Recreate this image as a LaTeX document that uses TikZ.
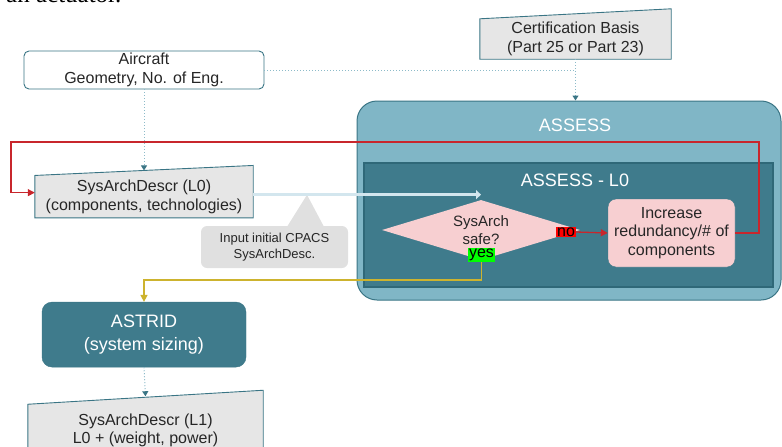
\documentclass[tikz,border=0pt]{standalone}
\usepackage{fontspec}
\setmainfont{Liberation Sans}
\newfontfamily\pagefont{Liberation Serif}
\usetikzlibrary{shapes,arrows.meta,positioning,backgrounds}

\definecolor{tealdark}{HTML}{3F7B8C}
\definecolor{tealedge}{HTML}{2F6878}
\definecolor{teallight}{HTML}{80B6C6}
\definecolor{tealline}{HTML}{3A7585}
\definecolor{dotblue}{HTML}{8DBBC9}
\definecolor{boxgray}{HTML}{E6E6E6}
\definecolor{pinkfill}{HTML}{F7CFD1}
\definecolor{loopred}{HTML}{C8262C}
\definecolor{yesyellow}{HTML}{CDB32E}
\definecolor{inputblue}{HTML}{D3E6EE}
\definecolor{notegray}{HTML}{E0E0E0}

\newcommand{\mainsize}{\fontsize{16}{18.5}\selectfont}
\newcommand{\asksize}{\fontsize{15}{18}\selectfont}
\newcommand{\bigsize}{\fontsize{18}{22.5}\selectfont}
\newcommand{\notesize}{\fontsize{13}{16}\selectfont}
\newcommand{\flagsize}{\fontsize{16}{18}\selectfont}

\tikzstyle{startbox} = [rectangle, draw=tealline, line width=0.9pt, fill=white,
    rounded corners=5pt, align=center, inner sep=2pt, font=\mainsize, text=black!85]
\tikzstyle{datain} = [rectangle, align=center, inner sep=2pt, font=\mainsize, text=black!85]
\tikzstyle{process} = [rectangle, draw=tealline, fill=tealdark, rounded corners=10pt,
    align=center, text=white, font=\bigsize]
\tikzstyle{outerbox} = [rectangle, draw=tealline, line width=1pt, fill=teallight, rounded corners=20pt]
\tikzstyle{innerbox} = [rectangle, draw=tealedge, line width=1.2pt, fill=tealdark]
\tikzstyle{boxtitle} = [text=white, font=\bigsize, inner sep=0pt]
\tikzstyle{decision} = [diamond, fill=pinkfill, aspect=3.3, inner sep=0pt, align=center,
    font=\asksize, text=black!85]
\tikzstyle{fixbox} = [rectangle, draw=tealline, fill=pinkfill, rounded corners=8pt,
    align=center, inner sep=2pt, font=\mainsize, text=black!85]
\tikzstyle{flag} = [inner sep=1pt, font=\flagsize, text=black]
\tikzstyle{note} = [rectangle, fill=notegray, rounded corners=6pt, align=center,
    font=\notesize, text=black!85]
\tikzstyle{dotarrow} = [draw=dotblue, dotted, line width=1pt,
    -{Triangle[width=6pt,length=5pt,color=tealline]}]
\tikzstyle{dotline} = [draw=dotblue, dotted, line width=1pt]
\tikzstyle{loopline} = [draw=loopred, line width=1.3pt, -{Triangle[width=7pt,length=7pt]}]
\tikzstyle{yesline} = [draw=yesyellow, line width=1.5pt, -{Triangle[width=7pt,length=7pt]}]
\tikzstyle{inputline} = [draw=inputblue, line width=2.5pt, -{Triangle[width=9pt,length=5pt]}]

% slanted top of a manual input box
\newcommand{\manualin}[2]{%
  \begin{scope}[on background layer]
    \filldraw[draw=tealline, fill=boxgray, line width=0.9pt]
      (#1.south west) -- (#1.north west) -- ([yshift=#2]#1.north east) -- (#1.south east) -- cycle;
  \end{scope}}

\begin{document}
\begin{tikzpicture}[x=1pt, y=-1pt]
    \useasboundingbox (0,0) rectangle (782,447);
    \clip (0,0) rectangle (782,447);

    \node[anchor=base west, inner sep=0pt, font={\pagefont\fontsize{25}{30}\selectfont}] (bodytext) at (6,2.5) {an actuator.};

    % ASSESS block
    \node[outerbox, minimum width=424pt, minimum height=199pt] (assess) at (569,200.5) {};
    \node[boxtitle] (assesstitle) at (575,125) {ASSESS};
    \node[innerbox, minimum width=409pt, minimum height=124pt] (assessl0) at (568.5,225) {};
    \node[boxtitle] (assessl0title) at (575,180) {ASSESS - L0};

    \node[decision, minimum width=198pt, minimum height=60pt] (decision) at (481,230) {SysArch\\safe?};
    \node[fixbox, minimum width=127pt, minimum height=68pt] (increase) at (671.5,233) {Increase\\redundancy/\# of\\components};
    \node[flag, fill=red] (no) at (566,232) {no};
    \node[flag, fill=green] (yes) at (481.5,255) {yes};

    % inputs and sizing
    \node[startbox, minimum width=240pt, minimum height=38pt] (aircraft) at (144,70) {Aircraft\\Geometry, No. of Eng.};
    \node[datain, minimum width=191pt, minimum height=40pt] (certbasis) at (575.5,39) {Certification Basis\\(Part 25 or Part 23)};
    \manualin{certbasis}{10pt}
    \node[datain, minimum width=218pt, minimum height=42pt, below=86pt of aircraft] (sysl0) {SysArchDescr (L0)\\(components, technologies)};
    \manualin{sysl0}{10pt}
    \node[process, minimum width=204pt, minimum height=65pt, below=84pt of sysl0] (astrid) {ASTRID\\(system sizing)};
    \node[datain, minimum width=235pt, minimum height=52pt, below=37pt of astrid, xshift=1.5pt] (sysl1) {SysArchDescr (L1)\\L0 + (weight, power)};
    \manualin{sysl1}{14pt}

    \node[note, minimum width=147pt, minimum height=42pt] (callout) at (274.5,247) {Input initial CPACS\\SysArchDesc.};
    \fill[notegray] ([xshift=12.5pt,yshift=-1pt]callout.north) -- ([xshift=32.5pt,yshift=31pt]callout.north) -- ([xshift=49.5pt,yshift=-1pt]callout.north) -- cycle;

    \coordinate (loopne) at (759,142);
    \coordinate (loopnw) at (11,142);
    \coordinate (yesturn) at ([yshift=-18pt]yes.south);
    \coordinate (inputstart) at ([yshift=2pt]sysl0.east);

    \path[dotline] (aircraft.east) -| (certbasis.south |- assess.north);
    \path[dotarrow] (certbasis.south) -- (certbasis.south |- assess.north);
    \path[dotarrow] (aircraft.south) -- ([yshift=5pt]sysl0.north);
    \path[dotarrow] (astrid.south) -- ([yshift=8pt]sysl1.north);

    \path[inputline] (inputstart) -- (inputstart -| decision.north);
    \path[loopline] (no.east) -- (increase.west);
    \path[loopline] (increase.east) -| (loopne) -- (loopnw) |- ([yshift=4pt]sysl0.west);
    \path[yesline] (yes.south) -- (yesturn) -| (astrid.north);
\end{tikzpicture}
\end{document}
